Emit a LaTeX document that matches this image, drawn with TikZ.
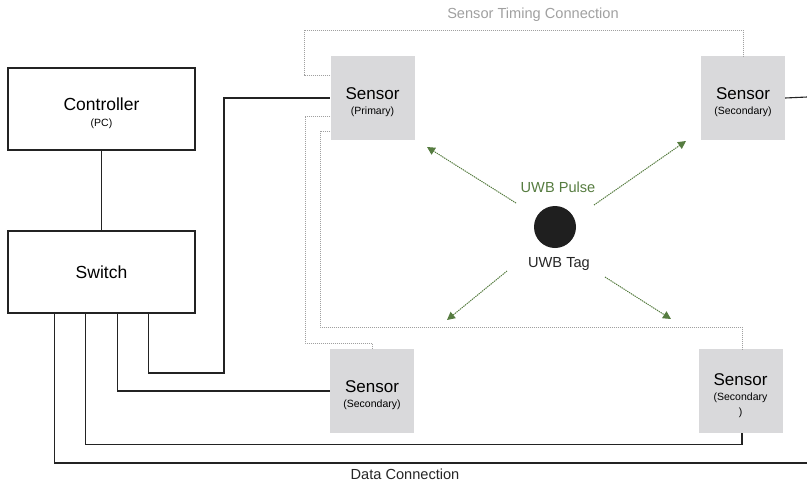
\documentclass[tikz,border=0pt]{standalone}
\usepackage{fontspec}
\setmainfont{Liberation Sans}
\usetikzlibrary{arrows.meta,positioning}
\definecolor{sensorgray}{RGB}{217,217,219}
\definecolor{pulsegreen}{RGB}{86,124,64}
\definecolor{timinggray}{RGB}{160,160,160}
\definecolor{wiregray}{RGB}{35,35,35}
\newcommand{\subtxt}[1]{{\fontsize{10.5}{12}\selectfont #1}}
\newcommand{\topgap}{\rule{0pt}{21pt}}

\begin{document}
\begin{tikzpicture}[x=1pt, y=-1pt,
    unitbox/.style={draw=wiregray, line width=1.1pt, minimum width=187pt, minimum height=82pt,
        font=\fontsize{17.5}{20}\selectfont, align=center},
    sensorbox/.style={fill=sensorgray, minimum width=84pt, minimum height=84pt, inner sep=0pt,
        font=\fontsize{17}{19}\selectfont, align=center},
    wire/.style={draw=wiregray, line width=1.1pt},
    timing/.style={draw=timinggray, line width=0.7pt, dash pattern=on 1pt off 1pt},
    pulse/.style={draw=pulsegreen, line width=1pt, dash pattern=on 1.2pt off 1pt,
        -{Triangle[length=8pt, width=8pt]}, fill=pulsegreen},
    caption/.style={font=\fontsize{14.6}{17}\selectfont}
]
    \useasboundingbox (0,0) rectangle (807,483);

    % Controller and switch
    \node[unitbox] (ctrl) at (101.5,109) {\topgap Controller\\[-4pt]\subtxt{(PC)}};
    \node[unitbox] (switch) at (101.5,272) {Switch};
    \draw[wire] (ctrl) -- (switch);

    % Sensors
    \node[sensorbox] (primary) at (372.5,98) {\topgap Sensor\\[-4pt]\subtxt{(Primary)}};
    \node[sensorbox] (secTR) at (743,98) {\topgap Sensor\\[-4pt]\subtxt{(Secondary)}};
    \node[sensorbox] (secBL) at (372,391) {\topgap Sensor\\[-4pt]\subtxt{(Secondary)}};
    \node[sensorbox] (secBR) at (740.5,391) {\topgap Sensor\\[-4pt]\subtxt{(Secondary}\\[-4pt]\subtxt{)}};

    % Data connections
    \coordinate (rightend) at (807,97);
    \coordinate (dataend) at (807,463);
    \draw[wire] ([xshift=47pt]switch.south) |- (224,373) |- (primary.west);
    \draw[wire] ([xshift=16pt]switch.south) |- (secBL.west);
    \draw[wire] ([xshift=-16pt]switch.south) |- ([yshift=-11pt,xshift=1.5pt]secBR.south) -- ([xshift=1.5pt]secBR.south);
    \draw[wire] ([xshift=-47pt]switch.south) |- (dataend);
    \draw[wire] (secTR.east) -- (rightend);
    \node[caption, text=black!85] (datalbl) at (405,474) {Data Connection};

    % Sensor timing connections
    \draw[timing] ([yshift=23pt]primary.west) -| (304,30) -| (secTR.north);
    \draw[timing] ([yshift=-18pt]primary.west) -| (305,343) -| (secBL.north);
    \draw[timing] ([yshift=-33pt]primary.west) -| (320,327) -| ([xshift=1.5pt]secBR.north);
    \node[caption, text=timinggray] (timinglbl) at (533,15) {Sensor Timing Connection};

    % UWB tag and pulses
    \node[circle, fill=black!88, minimum size=42pt, inner sep=0pt] (tag) at (555,227) {};
    \node[caption, text=pulsegreen] (pulselbl) at (558,187) {UWB Pulse};
    \node[caption, text=black!85] (taglbl) at (559,264) {UWB Tag};
    \coordinate (ulfrom) at (516,203);  \coordinate (ulto) at (427,147);
    \coordinate (urfrom) at (594,205);  \coordinate (urto) at (686,141);
    \coordinate (llfrom) at (507,271);  \coordinate (llto) at (447,320);
    \coordinate (lrfrom) at (605,277);  \coordinate (lrto) at (671,319);
    \draw[pulse] (ulfrom) -- (ulto);
    \draw[pulse] (urfrom) -- (urto);
    \draw[pulse] (llfrom) -- (llto);
    \draw[pulse] (lrfrom) -- (lrto);
\end{tikzpicture}
\end{document}
